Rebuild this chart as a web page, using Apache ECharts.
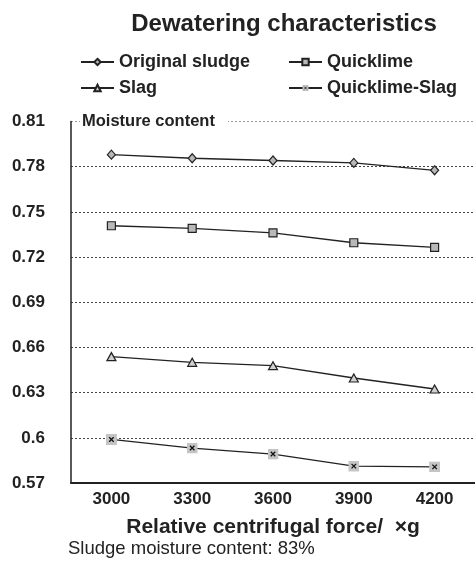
<!DOCTYPE html>
<html><head><meta charset="utf-8">
<script src="https://cdn.jsdelivr.net/npm/echarts@6/dist/echarts.min.js"></script>
<style>html,body{margin:0;padding:0;background:#fff}#c{width:475px;height:562px}</style>
</head><body><div id="c"></div>
<script>
const categories = ['3000', '3300', '3600', '3900', '4200'];
const originalSludge = [0.788, 0.7856, 0.7841, 0.7825, 0.7776];
const quicklime = [0.7408, 0.739, 0.736, 0.7295, 0.7264];
const slag = [0.6539, 0.6501, 0.6479, 0.6397, 0.6324];
const quicklimeSlag = [0.5989, 0.5932, 0.5892, 0.5812, 0.5807];
const yMin = 0.57, yMax = 0.81, yStep = 0.03;

const FONT = 'Liberation Sans, Arial, sans-serif';
const xIcon = 'image://data:image/svg+xml;utf8,' + encodeURIComponent(
  "<svg xmlns='http://www.w3.org/2000/svg' width='22' height='22'><rect width='22' height='22' fill='#c4c4c4'/><path d='M6.5 6.5L15.5 15.5M15.5 6.5L6.5 15.5' stroke='#111' stroke-width='2.6'/></svg>");

const chart = echarts.init(document.getElementById('c'), null, {renderer: 'canvas'});
const lineStyle = {color: '#222', width: 1.3};
function mk(name, data, symbol, size, fill, border) {
  return {
    name, type: 'line', data, symbol, symbolSize: size,
    lineStyle, itemStyle: {color: fill, borderColor: border, borderWidth: border ? 1.2 : 0},
    emphasis: {disabled: true}
  };
}
const gridColors = ['#444', '#444', '#444', '#444', '#444', '#444', '#444', '#444', '#9a9a9a'];
const legendText = {fontFamily: FONT, fontSize: 18, fontWeight: 'bold', color: '#222'};
chart.setOption({
  animation: false,
  legend: [
    {left: 75, top: 48, orient: 'vertical', itemWidth: 33, itemHeight: 8, itemGap: 8,
     data: ['Original sludge', 'Slag'], textStyle: legendText},
    {left: 283, top: 48, orient: 'vertical', itemWidth: 33, itemHeight: 8, itemGap: 8,
     data: ['Quicklime', 'Quicklime-Slag'], textStyle: legendText}
  ],
  grid: {left: 71, top: 121.5, right: -2, bottom: 79, containLabel: false},
  xAxis: {
    type: 'category', data: categories, boundaryGap: true,
    name: 'Relative centrifugal force/  \u00d7g', nameLocation: 'middle', nameGap: 34,
    nameTextStyle: {fontFamily: FONT, fontSize: 21, fontWeight: 'bold', color: '#222'},
    axisLine: {lineStyle: {color: '#222', width: 2}},
    axisTick: {inside: true, length: 5, lineStyle: {color: '#222', width: 1.3}},
    axisLabel: {fontFamily: FONT, fontSize: 17, fontWeight: 'bold', color: '#222', margin: 8}
  },
  yAxis: {
    type: 'value', min: yMin, max: yMax, interval: yStep,
    axisLine: {show: true, lineStyle: {color: '#222', width: 1.5}},
    axisTick: {show: false},
    axisLabel: {fontFamily: FONT, fontSize: 17, fontWeight: 'bold', color: '#222', margin: 26,
      formatter: v => String(parseFloat(v.toFixed(2)))},
    splitLine: {show: true, lineStyle: {color: gridColors, type: [2, 2], width: 1}}
  },
  graphic: [
    {type: 'text', x: 284, y: 12,
     style: {text: 'Dewatering characteristics', font: 'bold 24px ' + FONT, fill: '#222', align: 'center'}},
    {type: 'text', left: 80, top: 113, z: 100,
     style: {text: 'Moisture content', font: 'bold 16.5px ' + FONT, fill: '#222',
       backgroundColor: '#fff', padding: [0, 13, 0, 2]}},
    {type: 'text', left: 68, top: 539,
     style: {text: 'Sludge moisture content: 83%', font: '18.5px ' + FONT, fill: '#222'}}
  ],
  series: [
    mk('Original sludge', originalSludge, 'diamond', [8, 9], '#b8b8b8', '#222'),
    mk('Quicklime', quicklime, 'rect', 8, '#b8b8b8', '#222'),
    mk('Slag', slag, 'triangle', [9, 8], '#d0d0d0', '#222'),
    mk('Quicklime-Slag', quicklimeSlag, xIcon, 11, '#c4c4c4', null)
  ]
});
</script></body></html>
